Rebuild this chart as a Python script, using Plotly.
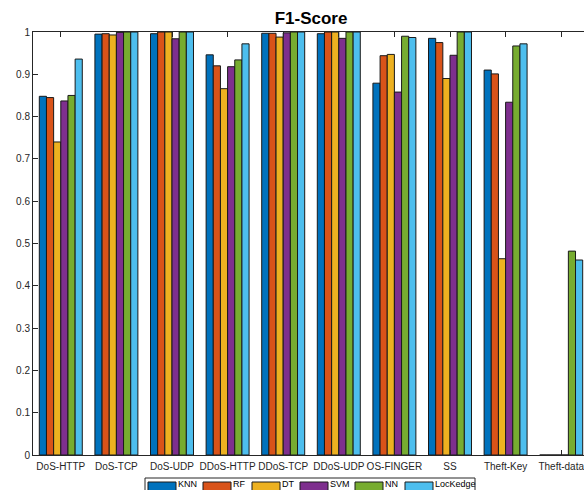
import plotly.graph_objects as go

# Attack categories along the x axis
categories = ["DoS-HTTP", "DoS-TCP", "DoS-UDP", "DDoS-HTTP", "DDoS-TCP",
              "DDoS-UDP", "OS-FINGER", "SS", "Theft-Key", "Theft-data"]

# F1-score per classifier
knn      = [0.848, 0.995, 0.996, 0.946, 0.997, 0.996, 0.879, 0.985, 0.910, 0.0]
rf       = [0.845, 0.996, 1.000, 0.920, 0.997, 1.000, 0.944, 0.975, 0.901, 0.0]
dt       = [0.740, 0.993, 1.000, 0.866, 0.988, 1.000, 0.947, 0.890, 0.464, 0.0]
svm      = [0.837, 0.999, 0.984, 0.918, 0.998, 0.985, 0.858, 0.945, 0.834, 0.0]
nn       = [0.850, 1.000, 1.000, 0.934, 1.000, 1.000, 0.990, 1.000, 0.967, 0.482]
lockedge = [0.936, 1.000, 1.000, 0.972, 1.000, 1.000, 0.987, 1.000, 0.972, 0.461]

series_names = ["KNN", "RF", "DT", "SVM", "NN", "LocKedge"]
series_values = [knn, rf, dt, svm, nn, lockedge]
series_colors = ["#0072BD", "#D95319", "#EDB120", "#7E2F8E", "#77AC30", "#4DBEEE"]

y_ticks = [i / 10 for i in range(11)]
y_tick_labels = ["0", "0.1", "0.2", "0.3", "0.4", "0.5", "0.6", "0.7", "0.8", "0.9", "1"]

W, H = 584, 490
ML, MT, MB = 33, 32, 35
PLOT_W = W - ML
PLOT_H = H - MT - MB
AXIS_COLOR = "#262626"
FONT = "Liberation Sans, Arial, sans-serif"

fig = go.Figure()
for name, vals, col in zip(series_names, series_values, series_colors):
    fig.add_trace(go.Bar(
        name=name, x=categories, y=vals,
        marker=dict(color=col, line=dict(color="#1a1a1a", width=1)),
        showlegend=False,
    ))


def px_x(px):
    return (px - ML) / PLOT_W


def px_y(py):
    return (H - MB - py) / PLOT_H


# Boxed horizontal legend under the axes
legend_icon_left = [148, 203, 252, 300, 355, 405]
icon_w = 28
shapes = [dict(type="rect", xref="paper", yref="paper",
               x0=px_x(145), x1=px_x(475), y0=px_y(500), y1=px_y(478),
               line=dict(color="#262626", width=1), fillcolor="white", layer="above")]
annotations = []
for left, name, col in zip(legend_icon_left, series_names, series_colors):
    shapes.append(dict(type="rect", xref="paper", yref="paper",
                       x0=px_x(left), x1=px_x(left + icon_w),
                       y0=px_y(496), y1=px_y(482),
                       line=dict(color="#1a1a1a", width=1), fillcolor=col, layer="above"))
    annotations.append(dict(text=name, xref="paper", yref="paper",
                            x=px_x(left + icon_w + 1), y=px_y(478),
                            xanchor="left", yanchor="top", showarrow=False,
                            borderpad=0,
                            font=dict(family=FONT, size=9, color="#000000")))

fig.update_layout(
    width=W, height=H,
    margin=dict(l=ML, r=0, t=MT, b=MB, pad=0),
    paper_bgcolor="white", plot_bgcolor="white",
    barmode="group", bargap=0.227, bargroupgap=0,
    title=dict(text="<b>F1-Score</b>", x=(ML + 589) / 2 / W, xanchor="center",
               y=1 - 18 / H, yanchor="middle",
               font=dict(family=FONT, size=17, color="#000000")),
    shapes=shapes, annotations=annotations,
    font=dict(family=FONT, size=10, color=AXIS_COLOR),
)
fig.update_xaxes(
    type="category", range=[-0.5, 9.41],
    showline=True, linecolor=AXIS_COLOR, linewidth=1, mirror="ticks",
    ticks="inside", ticklen=5, tickcolor=AXIS_COLOR, tickwidth=1,
    showgrid=False, zeroline=False, ticklabelstandoff=2,
    tickfont=dict(family=FONT, size=10, color=AXIS_COLOR),
)
fig.update_yaxes(
    range=[0, 1], tickvals=y_ticks, ticktext=y_tick_labels,
    showline=True, linecolor=AXIS_COLOR, linewidth=1,
    ticks="inside", ticklen=5, tickcolor=AXIS_COLOR, tickwidth=1,
    showgrid=False, zeroline=False,
    tickfont=dict(family=FONT, size=10, color=AXIS_COLOR),
)

fig.write_html("out.html")
